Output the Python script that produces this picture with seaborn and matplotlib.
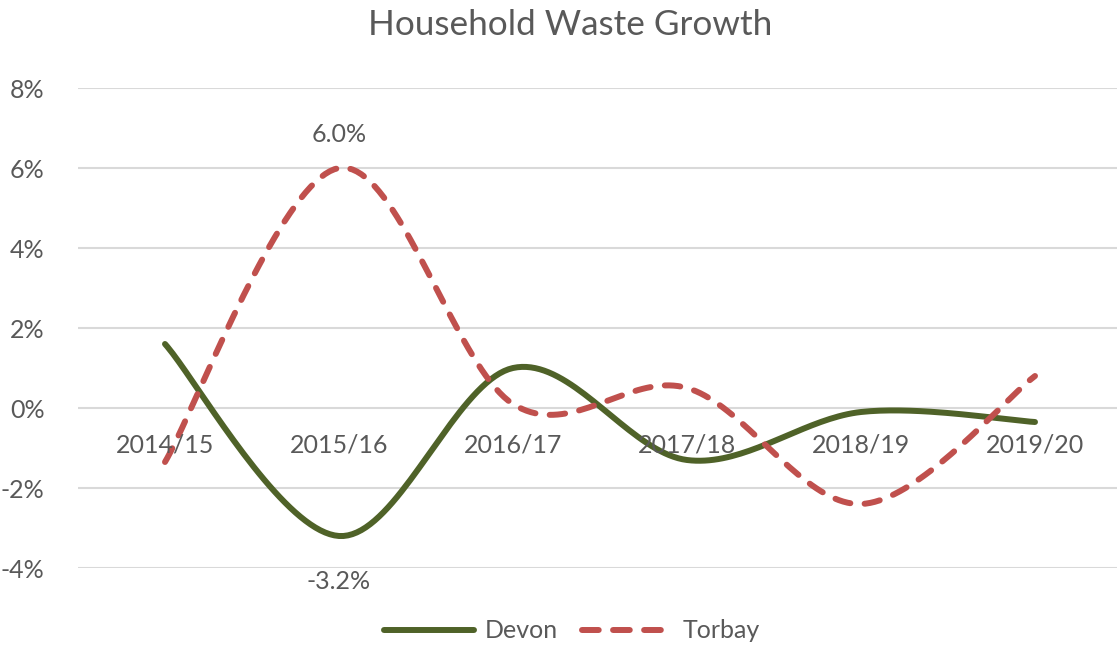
import numpy as np
import pandas as pd
import seaborn as sns
import matplotlib.pyplot as plt
from matplotlib.lines import Line2D

# data
years = ['2014/15', '2015/16', '2016/17', '2017/18', '2018/19', '2019/20']
devon = [1.6, -3.2, 1.0, -1.3, -0.1, -0.35]
torbay = [-1.35, 6.0, 0.1, 0.5, -2.4, 0.8]

green = '#4F6228'
red = '#C0504D'
grey = '#595959'

sns.set_theme(style='white')
plt.rcParams['font.family'] = ['Lato', 'DejaVu Sans']


def smooth(vals, n=40):
    # excel style smoothed line (bezier through the points)
    p = np.column_stack([np.arange(len(vals)), vals]).astype(float)
    pts = []
    for i in range(len(p) - 1):
        p0 = p[i - 1] if i > 0 else p[i]
        p3 = p[i + 2] if i + 2 < len(p) else p[i + 1]
        c1 = p[i] + (p[i + 1] - p0) / 6
        c2 = p[i + 1] - (p3 - p[i]) / 6
        t = np.linspace(0, 1, n)[:, None]
        seg = ((1 - t) ** 3) * p[i] + 3 * ((1 - t) ** 2) * t * c1 + 3 * (1 - t) * t ** 2 * c2 + t ** 3 * p[i + 1]
        pts.append(seg if i == 0 else seg[1:])
    return np.vstack(pts)


lw = 4.3
fig = plt.figure(figsize=(11.17, 6.47), dpi=100)
ax = fig.add_axes([78 / 1117, 1 - 568 / 647, 1 - 78 / 1117, 480 / 647])

for vals, name, col in [(devon, 'Devon', green), (torbay, 'Torbay', red)]:
    s = smooth(vals)
    df = pd.DataFrame({'x': s[:, 0], 'y': s[:, 1]})
    sns.lineplot(data=df, x='x', y='y', sort=False, color=col, linewidth=lw, ax=ax,
                 solid_capstyle='round', dash_capstyle='round')
    if name == 'Torbay':
        ax.lines[-1].set_dashes((2.6, 2.4))

ax.set_xlim(-0.5, (1117 - 165) / 174)
ax.set_ylim(-4, 8)
ax.set_yticks(range(-4, 9, 2))
ax.set_yticklabels([f'{v}%' for v in range(-4, 9, 2)], color=grey, fontsize=18)
ax.yaxis.grid(True, color='#D9D9D9', linewidth=1.5)
ax.set_axisbelow(True)
for sp in ax.spines.values():
    sp.set_visible(False)
ax.tick_params(axis='y', length=0, pad=24)

ax.set_xticks([])
for i, yr in enumerate(years):
    ax.text(i, -0.92, yr, ha='center', va='center', color=grey, fontsize=18)

ax.set_xlabel('')
ax.set_ylabel('')

ax.annotate(f'{torbay[1]:.1f}%', (1, torbay[1]), xytext=(0, 24), textcoords='offset points',
            ha='center', va='center', color=grey, fontsize=18)
ax.annotate(f'{devon[1]:.1f}%', (1, devon[1]), xytext=(0, -33), textcoords='offset points',
            ha='center', va='center', color=grey, fontsize=18)

fig.text(570 / 1117, 1 - 25 / 647, 'Household Waste Growth', ha='center', va='center',
         color=grey, fontsize=25.3)

handles = [Line2D([], [], color=green, linewidth=lw, solid_capstyle='round'),
           Line2D([], [], color=red, linewidth=lw, dashes=(2.8, 2.4), dash_capstyle='round')]
fig.legend(handles, ['Devon', 'Torbay'], loc='center', bbox_to_anchor=(572 / 1117, 1 - 631 / 647),
           ncol=2, frameon=False, fontsize=18, handlelength=3.6, handletextpad=0.4,
           columnspacing=1.0, labelcolor=grey)

fig.savefig('out.png', dpi=100)
